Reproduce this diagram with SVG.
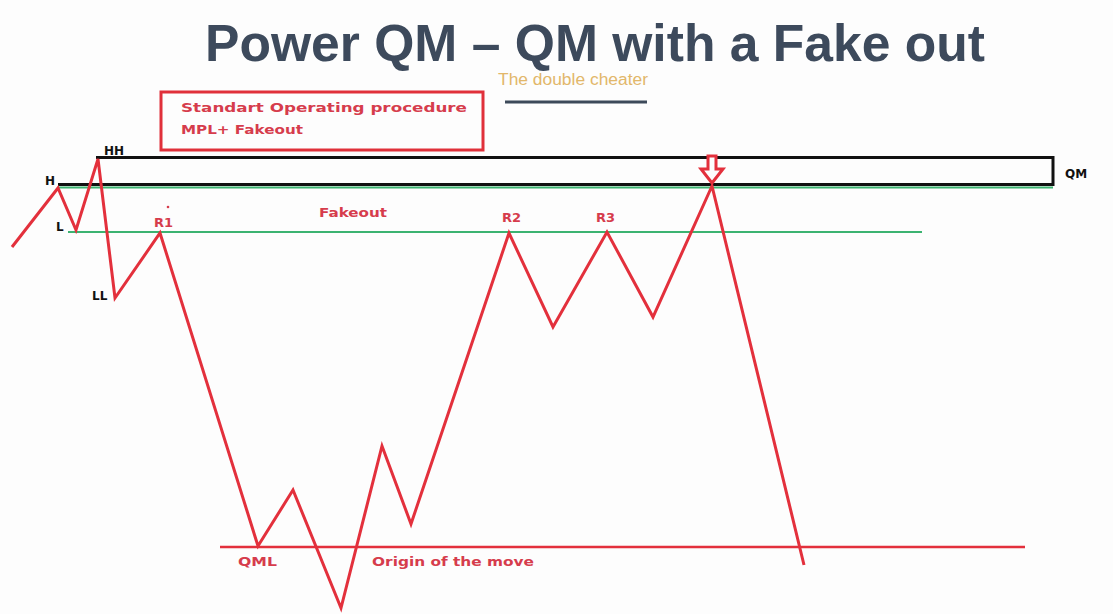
<svg xmlns="http://www.w3.org/2000/svg" width="1113" height="614" viewBox="0 0 1113 614">
<style>
.title{font-family:"Liberation Sans",Arial,sans-serif;font-weight:bold;font-size:52px;fill:#3d4a5c}
.sub{font-family:"Liberation Sans",Arial,sans-serif;font-size:16px;fill:#e2b76a}
.rl{font-family:"DejaVu Sans",Verdana,sans-serif;font-weight:bold;font-size:13px;fill:#d63c4c}
.bl{font-family:"DejaVu Sans",Verdana,sans-serif;font-weight:bold;font-size:12px;fill:#111}
.blk{stroke:#111;stroke-width:3;fill:none}
.grn{stroke:#3cb371;stroke-width:2;fill:none}
.red{stroke:#e3303c;stroke-width:3;fill:none;stroke-linejoin:miter}
</style>
<rect width="1113" height="614" fill="#fdfdfd"/>
<g id="title">
<text class="title" x="595" y="61" text-anchor="middle" textLength="780" lengthAdjust="spacingAndGlyphs">Power QM – QM with a Fake out</text>
<text class="sub" x="498" y="85" textLength="150" lengthAdjust="spacingAndGlyphs">The double cheater</text>
<line x1="505" y1="102" x2="647" y2="102" stroke="#3d4a5a" stroke-width="3"/>
</g>
<g id="sop-box">
<rect x="161" y="92" width="322" height="58" fill="none" stroke="#e0303a" stroke-width="3"/>
<text class="rl" x="181" y="112" textLength="286" lengthAdjust="spacingAndGlyphs">Standart Operating procedure</text>
<text class="rl" x="181" y="134" textLength="122" lengthAdjust="spacingAndGlyphs">MPL+ Fakeout</text>
</g>
<g id="qm-zone">
<line class="grn" x1="58" y1="187.5" x2="1053" y2="187.5"/>
<polyline class="blk" points="96,157.5 1053,157.5 1053,184.5 58,184.5"/>
<text class="bl" x="1065" y="178" font-size="13">QM</text>
</g>
<g id="fakeout-level">
<line class="grn" x1="68" y1="232" x2="922" y2="232"/>
<text class="rl" x="319" y="217" font-size="12" textLength="68" lengthAdjust="spacingAndGlyphs">Fakeout</text>
</g>
<g id="origin-level">
<line x1="220" y1="547" x2="1025" y2="547" stroke="#e3303c" stroke-width="2.5"/>
<text class="rl" x="238" y="566" font-size="12" textLength="39" lengthAdjust="spacingAndGlyphs">QML</text>
<text class="rl" x="372" y="566" font-size="12" textLength="162" lengthAdjust="spacingAndGlyphs">Origin of the move</text>
</g>
<g id="connectors">
<polyline class="red" points="12,247 58,188 76,230 98,159 115,298 160,233 258,546 293,490 341,608 382,446 411,524 509,233 553,327 607,232 653,317 712,186 804,565"/>
<path d="M708,156 L716,156 L716,169 L723,169 L712,183 L701,169 L708,169 Z" fill="#fdfdfd" stroke="#e3303c" stroke-width="3" stroke-linejoin="miter"/>
</g>
<g id="labels">
<text class="bl" x="45" y="185">H</text>
<text class="bl" x="104" y="155">HH</text>
<text class="bl" x="56" y="231">L</text>
<text class="bl" x="92" y="300">LL</text>
<text class="rl" x="154" y="227">R1</text>
<circle cx="168" cy="207" r="1.3" fill="#d63c4c"/>
<text class="rl" x="502" y="222">R2</text>
<text class="rl" x="596" y="222">R3</text>
</g>
</svg>
